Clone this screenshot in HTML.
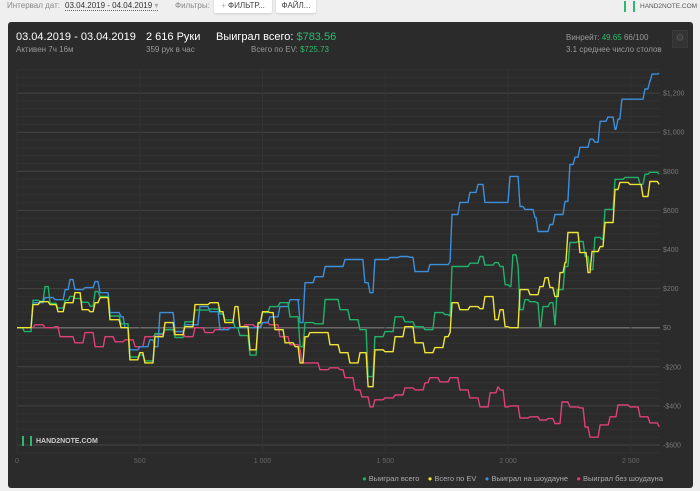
<!DOCTYPE html>
<html><head><meta charset="utf-8"><style>
body{margin:0;width:700px;height:491px;background:#efefef;font-family:"Liberation Sans",sans-serif;position:relative;overflow:hidden}
.t{position:absolute;white-space:nowrap}
</style></head><body>
<div class="t" style="left:7px;top:1px;font-size:8px;color:#888">Интервал дат:</div>
<div class="t" style="left:65px;top:1px;font-size:8px;color:#333;border-bottom:1px dotted #666">03.04.2019 - 04.04.2019 <span style="color:#aaa">▾</span></div>
<div class="t" style="left:175px;top:1px;font-size:8px;color:#888">Фильтры:</div>
<div class="t" style="left:214px;top:-2px;width:58px;height:15px;background:#fff;border-radius:2px;box-shadow:0 1px 2px #ccc;font-size:8px;color:#444;line-height:15px;text-align:center"><span style="color:#aaa">+</span> ФИЛЬТР...</div>
<div class="t" style="left:276px;top:-2px;width:40px;height:15px;background:#fff;border-radius:2px;box-shadow:0 1px 2px #ccc;font-size:8px;color:#444;line-height:15px;text-align:center">ФАЙЛ...</div>
<div class="t" style="left:624px;top:0px;font-size:6.5px;color:#555;line-height:14px"><span style="display:inline-block;width:7px;height:11px;border-left:2px solid #2eb872;border-right:2px solid #2eb872;vertical-align:middle;margin-right:5px"></span>HAND2NOTE.COM</div>

<div style="position:absolute;left:8px;top:22px;width:685px;height:466px;background:#2b2b2b;border-radius:3px"></div>
<div class="t" style="left:16px;top:31px;font-size:11px;color:#fff">03.04.2019 - 03.04.2019</div>
<div class="t" style="left:16px;top:45px;font-size:8px;color:#999">Активен 7ч 16м</div>
<div class="t" style="left:146px;top:31px;font-size:11px;color:#fff">2 616 Руки</div>
<div class="t" style="left:146px;top:45px;font-size:8px;color:#999">359 рук в час</div>
<div class="t" style="left:216px;top:31px;font-size:11px;color:#fff">Выиграл всего: <span style="color:#2dbb6e">$783.56</span></div>
<div class="t" style="left:250px;width:79px;text-align:right;top:45px;font-size:8px;color:#999">Всего по EV: <span style="color:#2dbb6e">$725.73</span></div>
<div class="t" style="left:566px;top:33px;font-size:8px;color:#999">Винрейт: <span style="color:#2dbb6e">49.65</span> 66/100</div>
<div class="t" style="left:566px;top:45px;font-size:8px;color:#999">3.1 среднее число столов</div>
<div class="t" style="left:672px;top:30px;width:14px;height:16px;background:#333;border:1px solid #3a3a3a;color:#555;font-size:10px;text-align:center;line-height:16px">⚙</div>

<svg id="chart" style="position:absolute;left:0;top:0" width="700" height="491"></svg>
<script>
const ticksX=[0,500,1000,1500,2000,2500];
const tickXLabels=["0","500","1 000","1 500","2 000","2 500"];
const ticksY=[-600,-400,-200,0,200,400,600,800,1000,1200];
const tickYLabels=["-$600","-$400","-$200","$0","$200","$400","$600","$800","$1,000","$1,200"];
const wonH=[0,30,50,65,94,114,135,167,196,216,236,265,298,318,338,379,424,460,500,521,562,603,644,684,725,786,827,847,888,908,949,982,1000,1030,1071,1112,1153,1173,1214,1255,1316,1356,1397,1430,1458,1499,1540,1580,1621,1662,1702,1743,1764,1772,1804,1845,1886,1906,1947,1968,1988,2008,2020,2041,2049,2069,2090,2118,2130,2142,2171,2191,2200,2232,2252,2285,2314,2334,2354,2383,2395,2416,2436,2477,2538,2558,2578,2616];
const wonV=[0,-20,-20,140,135,210,125,100,140,160,150,130,110,185,160,60,20,-150,-140,-170,-30,-10,-50,30,90,95,70,40,0,-40,-140,20,77,108,128,56,-97,26,20,144,92,41,-10,-250,-46,-20,56,30,5,-10,77,67,60,313,313,330,364,320,333,313,220,210,373,313,92,143,133,128,5,108,128,15,195,313,436,441,364,297,462,451,605,605,759,769,733,785,795,785];
const evH=[0,45,65,94,135,167,196,216,236,265,298,318,338,379,424,460,500,521,562,603,644,684,725,786,827,847,888,908,949,982,1000,1030,1051,1092,1133,1153,1173,1193,1234,1275,1316,1356,1397,1430,1458,1499,1540,1580,1621,1662,1702,1743,1764,1772,1804,1845,1886,1906,1947,1968,1988,2008,2049,2090,2130,2151,2171,2191,2212,2232,2244,2273,2293,2326,2342,2375,2395,2436,2456,2497,2550,2578,2616];
const evV=[0,0,118,133,118,82,128,128,179,92,82,128,154,41,0,-164,-128,-180,-46,26,-36,5,118,128,82,26,108,5,-113,26,82,77,-10,-77,-97,-180,-46,-25,-25,-87,-128,-180,-128,-302,-113,-123,-46,5,-77,-128,-102,-46,-25,128,92,108,97,159,41,92,5,0,195,169,210,256,205,159,282,333,487,487,384,282,390,415,538,707,743,733,671,748,733];
const sdH=[0,53,65,114,155,196,216,236,277,318,338,379,424,440,460,500,541,562,582,644,684,745,786,827,868,949,1000,1030,1071,1112,1150,1153,1173,1214,1255,1316,1336,1377,1417,1438,1458,1519,1560,1601,1621,1662,1682,1764,1772,1804,1845,1878,1906,1988,2008,2049,2069,2110,2122,2171,2191,2232,2252,2273,2293,2334,2354,2375,2407,2436,2448,2464,2538,2558,2578,2587,2616];
const sdV=[0,0,128,154,143,195,246,195,205,236,179,77,56,0,-113,-97,-62,-97,77,-20,15,108,82,-10,0,0,26,56,108,143,143,26,230,261,313,313,349,349,230,179,349,359,364,360,287,287,323,338,579,641,692,733,641,641,774,620,605,564,492,528,579,646,835,872,923,964,949,1056,1077,1015,1067,1169,1169,1221,1262,1297,1302];
const nsdH=[0,53,73,114,155,175,216,236,277,318,359,400,440,481,521,562,603,644,684,725,766,806,847,888,929,970,1000,1030,1071,1112,1153,1161,1193,1234,1275,1316,1336,1377,1405,1438,1458,1499,1540,1580,1621,1662,1682,1723,1764,1804,1845,1886,1927,1959,1968,1988,2008,2049,2090,2130,2163,2191,2220,2252,2293,2314,2334,2375,2416,2448,2497,2538,2578,2616];
const nsdV=[0,0,15,0,5,-46,-46,-77,-25,-97,-46,-72,-62,-97,-46,-36,-10,-20,-46,0,-25,-10,0,0,15,5,26,15,-46,-87,-113,-180,-180,-215,-205,-215,-256,-318,-354,-405,-369,-359,-344,-308,-318,-282,-256,-277,-256,-318,-359,-405,-333,-303,-318,-405,-400,-462,-456,-472,-465,-490,-380,-405,-410,-508,-560,-497,-456,-395,-405,-456,-487,-508];

const NS="http://www.w3.org/2000/svg";
const svg=document.getElementById('chart');
const X0=17,X1=660,Y0=327.7;
const xs=h=>X0+h*0.2455;
const ys=v=>Y0-v*0.1955;
function el(t,a){const e=document.createElementNS(NS,t);for(const k in a)e.setAttribute(k,a[k]);svg.appendChild(e);return e;}
for(let v=-640;v<=1320;v+=40){
  const g=el('line',{x1:X0,x2:X1,y1:ys(v),y2:ys(v),stroke:v%200===0?(v===0?'#6a6a6a':'#444'):'#323232','stroke-width':v===0?1.5:1});
  
  
}
ticksX.forEach((t,i)=>{
  const g=el('line',{x1:xs(t),x2:xs(t),y1:70,y2:452,stroke:'#333'});
  
  
  const tx=el('text',{x:xs(t),y:463,fill:'#666','font-size':7,'text-anchor':'middle','font-family':'Liberation Sans'});
  tx.textContent=tickXLabels[i];
  
  
});
ticksY.forEach((t,i)=>{
  const tx=el('text',{x:663,y:ys(t)+2.5,fill:'#777','font-size':7,'font-family':'Liberation Sans'});
  tx.textContent=tickYLabels[i];
  
  
});
function series(H,V,c,name){
  let d='M'+xs(H[0]).toFixed(1)+','+ys(V[0]).toFixed(1);
  for(let i=1;i<H.length;i++){
    const xm=xs(H[i]-8).toFixed(1);
    d+='L'+xm+','+ys(V[i-1]).toFixed(1)+'L'+xs(H[i]).toFixed(1)+','+ys(V[i]).toFixed(1);
  }
  const p=el('path',{d:d,fill:'none',stroke:c,'stroke-width':1.4,'stroke-linejoin':'round'});
  
  
}
series(nsdH,nsdV,'#e0407a','non-showdown-line');
series(sdH,sdV,'#3d8fdc','showdown-line');
series(wonH,wonV,'#20b26a','total-won-line');
series(evH,evV,'#f0e436','ev-line');
</script>
<div class="t" style="left:22px;top:436px;font-size:7px;color:#ccc;font-weight:bold;line-height:12px"><span style="display:inline-block;width:6px;height:10px;border-left:2px solid #2eb872;border-right:2px solid #2eb872;vertical-align:middle;margin-right:4px"></span>HAND2NOTE.COM</div>
<div class="t" style="left:355px;width:308px;text-align:right;top:474px;font-size:7.5px;color:#aaa">
<span><span style="color:#20b26a">●</span> Выиграл всего</span>&nbsp;&nbsp;&nbsp;
<span><span style="color:#f0e436">●</span> Всего по EV</span>&nbsp;&nbsp;&nbsp;
<span><span style="color:#3d8fdc">●</span> Выиграл на шоудауне</span>&nbsp;&nbsp;&nbsp;
<span><span style="color:#e0407a">●</span> Выиграл без шоудауна</span></div>
</body></html>
